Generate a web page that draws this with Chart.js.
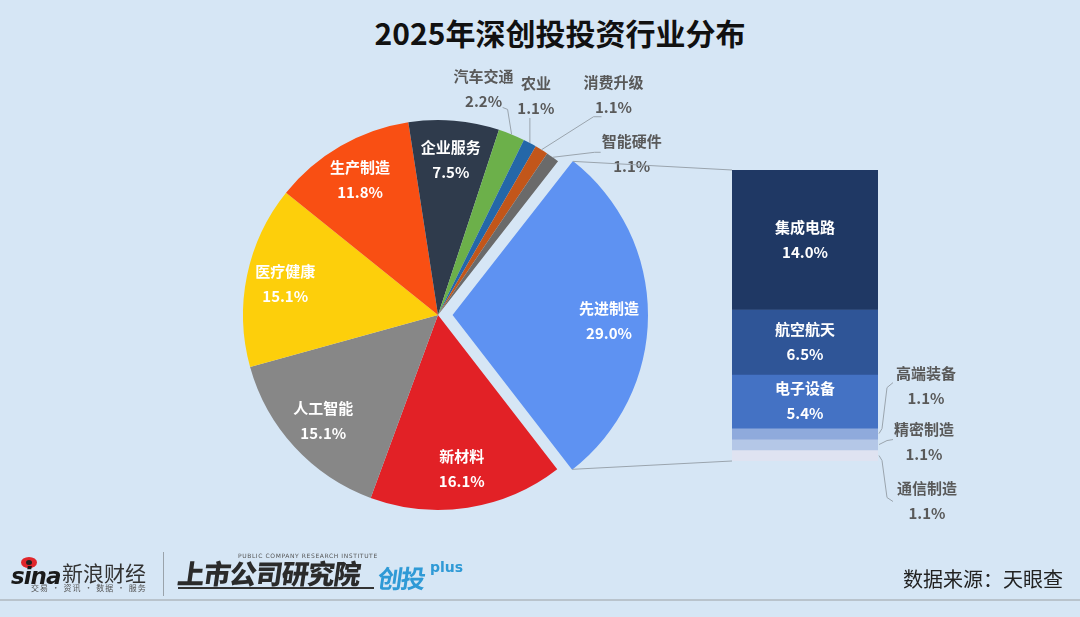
<!DOCTYPE html>
<html>
<head>
<meta charset="utf-8">
<script src="https://cdn.jsdelivr.net/npm/chart.js@4.4.1/dist/chart.umd.min.js"></script>
<style>
html,body{margin:0;padding:0;}
body{width:1080px;height:617px;background:#d6e6f5;position:relative;overflow:hidden;font-family:"Noto Sans CJK SC","Noto Sans",sans-serif;}
canvas{position:absolute;left:0;top:0;}
#title{position:absolute;left:0;width:1120px;top:10px;text-align:center;font-size:30px;font-weight:bold;color:#111;line-height:44px;}
.t{position:absolute;white-space:nowrap;}
#hline{position:absolute;left:0;top:599px;width:1080px;height:2px;background:#b9c3cc;}
#vline{position:absolute;left:163px;top:552px;width:1px;height:44px;background:#9aa3ab;}
#uline{position:absolute;left:178px;top:587px;width:196px;height:2px;background:#333;}
#eye{position:absolute;left:21px;top:557px;width:16px;height:11px;border-radius:50%;background:#e0262b;}
#eye2{position:absolute;left:26px;top:560px;width:6px;height:5px;border-radius:50%;background:#222;}
</style>
</head>
<body>
<div id="title"></div>
<canvas id="pie" width="1080" height="617"></canvas>
<canvas id="bar" width="1080" height="617"></canvas>

<div id="eye"></div><div id="eye2"></div>
<div class="t" style="left:11px;top:563px;font:italic bold 23px 'DejaVu Sans';color:#1a1a1a;letter-spacing:-1px;">sina</div>
<div class="t" style="left:62px;top:557px;font-size:21px;color:#333;">新浪财经</div>
<div class="t" style="left:31px;top:582px;font-size:8px;color:#555;letter-spacing:1px;">交易 · 资讯 · 数据 · 服务</div>
<div id="vline"></div>
<div class="t" style="left:238px;top:552px;font:6px 'DejaVu Sans';color:#555;letter-spacing:0.6px;">PUBLIC COMPANY RESEARCH INSTITUTE</div>
<div class="t" style="left:178px;top:553px;font-size:27px;font-weight:900;color:#2b2b2b;transform:skewX(-8deg);letter-spacing:-1px;">上市公司研究院</div>
<div id="uline"></div>
<div class="t" style="left:378px;top:559px;font-size:25px;font-weight:bold;color:#2f9ad6;transform:skewX(-8deg);letter-spacing:-2px;">创投</div>
<div class="t" style="left:430px;top:559px;font:bold 14px 'DejaVu Sans';color:#2f9ad6;">plus</div>
<div class="t" style="left:903px;top:564px;font-size:20px;color:#222;">数据来源：天眼查</div>
<div id="hline"></div>

<script>
// ---------------- data ----------------
const chartTitle = '2025年深创投投资行业分布';
const pieLabels = ['先进制造','新材料','人工智能','医疗健康','生产制造','企业服务','汽车交通','农业','消费升级','智能硬件'];
const pieValues = [29.0, 16.1, 15.1, 15.1, 11.8, 7.5, 2.2, 1.1, 1.1, 1.1];
const barLabels = ['集成电路','航空航天','电子设备','高端装备','精密制造','通信制造'];
const barValues = [14.0, 6.5, 5.4, 1.1, 1.1, 1.1];

// ---------------- styles ----------------
const pieColors = ['#5e92f2','#e22126','#878787','#fdcf0b','#f94f13','#2f3b4c','#6cb04a','#2467a8','#c2561a','#6a6a6a'];
const explodePx = [15,0,0,0,0,0,0,0,0,0];   // visual explode distance in px
const barColors = ['#1f3864','#2f5597','#4472c4','#8faadc','#b4c7e7','#dfe3f1'];
const outColor = '#595959';
const lineColor = '#9aa4ad';
// inner label vertical nudges (px)
const innerNudge = {0:5};
// outside label layout for small slices (relative to slice edge point)
const pieOut = {
  6: {dx:-28, dy:-46, path:[[0,0],[-4,-25],[-9,-27]]},
  7: {dx:6,   dy:-47, path:[[0,0],[0,-25]]},
  8: {dx:72,  dy:-55, path:[[0,0],[52,-33],[60,-33]]},
  9: {dx:79,  dy:-3,  path:[[0,0],[42,-5],[48,-5]]}
};
// outside label layout for thin bar segments (relative to right edge & segment middle)
const barOut = {
  3: {dx:47, dy:-48, path:[[0,0],[3,-5],[8,-46],[14,-51]]},
  4: {dx:45, dy:-3,  path:[[0,0],[8,-4],[14,-5]]},
  5: {dx:48, dy:45,  path:[[0,0],[3,5],[8,42],[14,46]]}
};

document.getElementById('title').textContent = chartTitle;
const FONT = '"Noto Sans CJK SC","Noto Sans",sans-serif';
const barTotal = barValues.reduce((a,b)=>a+b,0);
const pieTotal = pieValues.reduce((a,b)=>a+b,0);
// Chart.js arc translates by offset/4 * (2 - sin(min(PI,circ))); invert that
const pieOffsets = explodePx.map((e,i)=>{
  const circ = pieValues[i]/pieTotal*Math.PI*2;
  return e*4/(2 - Math.sin(Math.min(Math.PI, circ)));
});
function shiftOf(i, circ){
  const o = (pieOffsets[i]||0)/4;
  return o*(2 - Math.sin(Math.min(Math.PI, circ)));
}

function fmt(v){ return v.toFixed(1) + '%'; }
function twoLines(ctx, name, val, x, y, color){
  ctx.fillStyle = color;
  ctx.font = 'bold 15px ' + FONT;
  ctx.textAlign = 'center';
  ctx.textBaseline = 'middle';
  ctx.fillText(name, x, y - 12.5);
  ctx.fillText(val, x, y + 12.5);
}
function poly(ctx, x, y, pts){
  ctx.beginPath();
  pts.forEach((p,i)=>{ if(i===0) ctx.moveTo(x+p[0], y+p[1]); else ctx.lineTo(x+p[0], y+p[1]); });
  ctx.stroke();
}
function arcGeom(arc, i){
  const p = arc.getProps(['x','y','startAngle','endAngle','outerRadius','circumference'], true);
  const mid = (p.startAngle + p.endAngle)/2;
  const s = shiftOf(i, p.endAngle - p.startAngle);
  return {cx:p.x + Math.cos(mid)*s, cy:p.y + Math.sin(mid)*s, r:p.outerRadius, mid, a0:p.startAngle, a1:p.endAngle};
}

const pieLabelPlugin = {
  id:'pieLabels',
  afterDatasetsDraw(chart){
    const ctx = chart.ctx;
    const meta = chart.getDatasetMeta(0);
    ctx.save();
    meta.data.forEach((arc, i)=>{
      const g = arcGeom(arc, i);
      if (pieOut[i]) {
        const ex = g.cx + Math.cos(g.mid)*g.r, ey = g.cy + Math.sin(g.mid)*g.r;
        const L = pieOut[i];
        ctx.strokeStyle = lineColor; ctx.lineWidth = 1;
        poly(ctx, ex, ey, L.path);
        twoLines(ctx, pieLabels[i], fmt(pieValues[i]), ex + L.dx, ey + L.dy, outColor);
      } else {
        const lx = g.cx + Math.cos(g.mid)*g.r*0.8, ly = g.cy + Math.sin(g.mid)*g.r*0.8 + (innerNudge[i]||0);
        twoLines(ctx, pieLabels[i], fmt(pieValues[i]), lx, ly, '#ffffff');
      }
    });
    ctx.restore();
  }
};

const pieChart = new Chart(document.getElementById('pie'), {
  type:'pie',
  data:{labels:pieLabels, datasets:[{data:pieValues, backgroundColor:pieColors, borderWidth:0, offset:pieOffsets}]},
  options:{
    responsive:false, animation:false, events:[],
    rotation:38, radius:195,
    layout:{padding:{left:238, right:442, top:115, bottom:102}},
    plugins:{legend:{display:false}, tooltip:{enabled:false}, title:{display:false}}
  },
  plugins:[pieLabelPlugin]
});

const barLabelPlugin = {
  id:'barLabels',
  afterDatasetsDraw(chart){
    const ctx = chart.ctx;
    ctx.save();
    let topY = Infinity, botY = -Infinity, leftX = 0;
    barValues.forEach((v, i)=>{
      const el = chart.getDatasetMeta(i).data[0];
      const p = el.getProps(['x','y','base','width'], true);
      const t = Math.min(p.y, p.base), b = Math.max(p.y, p.base);
      topY = Math.min(topY, t); botY = Math.max(botY, b);
      leftX = p.x - p.width/2;
      const m = (t+b)/2;
      if (barOut[i]) {
        const L = barOut[i];
        const rx = p.x + p.width/2 + 1;
        ctx.strokeStyle = lineColor; ctx.lineWidth = 1;
        poly(ctx, rx, m, L.path);
        twoLines(ctx, barLabels[i], fmt(v), rx + L.dx, m + L.dy, outColor);
      } else {
        twoLines(ctx, barLabels[i], fmt(v), p.x, m, '#ffffff');
      }
    });
    // connector lines from exploded pie slice to bar
    const g = arcGeom(pieChart.getDatasetMeta(0).data[0], 0);
    ctx.strokeStyle = lineColor; ctx.lineWidth = 1;
    ctx.beginPath();
    ctx.moveTo(g.cx + Math.cos(g.a0)*g.r, g.cy + Math.sin(g.a0)*g.r);
    ctx.lineTo(leftX, topY);
    ctx.moveTo(g.cx + Math.cos(g.a1)*g.r, g.cy + Math.sin(g.a1)*g.r);
    ctx.lineTo(leftX, botY);
    ctx.stroke();
    ctx.restore();
  }
};

new Chart(document.getElementById('bar'), {
  type:'bar',
  data:{labels:[''], datasets: barLabels.map((l,i)=>({label:l, data:[barValues[i]], backgroundColor:barColors[i], borderWidth:0, barPercentage:1, categoryPercentage:1}))},
  options:{
    responsive:false, animation:false, events:[],
    layout:{padding:{left:732, right:202, top:170, bottom:156}},
    scales:{
      x:{display:false, stacked:true},
      y:{display:false, stacked:true, reverse:true, min:0, max:barTotal}
    },
    plugins:{legend:{display:false}, tooltip:{enabled:false}}
  },
  plugins:[barLabelPlugin]
});
</script>
</body>
</html>
